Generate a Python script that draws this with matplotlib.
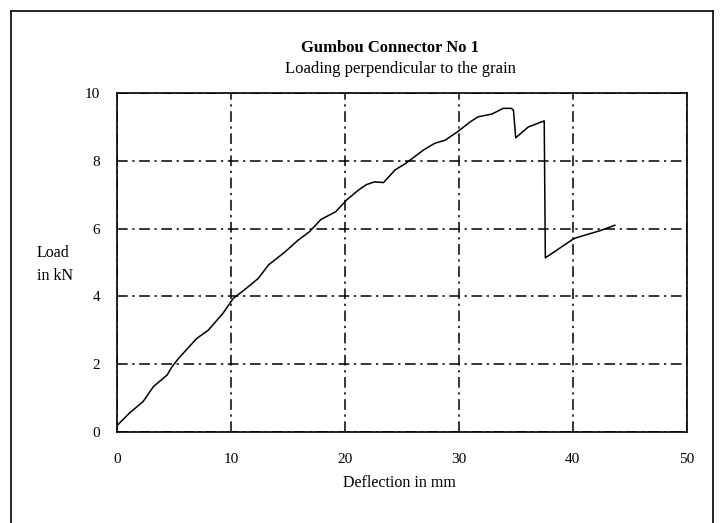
"""Gumbou connector No 1 — load vs deflection, loading perpendicular to the grain."""
import matplotlib
matplotlib.use("Agg")
import matplotlib.pyplot as plt
from matplotlib.lines import Line2D

# deflection (mm) and load (kN)
DEFLECTION = [0.0, 1.1, 2.3, 3.2, 4.4, 4.8, 5.4, 7.0, 8.0, 9.3, 10.2, 11.2,
              12.4, 13.3, 14.7, 15.9, 16.9, 17.9, 19.2, 20.2, 21.2, 21.9,
              22.6, 23.4, 24.4, 25.4, 26.9, 27.9, 28.8, 29.9, 31.0, 31.7,
              32.9, 33.9, 34.6, 34.8, 35.0, 36.1, 37.5, 37.6, 38.4, 39.9,
              40.2, 42.4, 43.7]
LOAD = [0.19, 0.56, 0.90, 1.34, 1.68, 1.91, 2.17, 2.76, 3.00, 3.50, 3.94, 4.20,
        4.53, 4.93, 5.30, 5.66, 5.91, 6.27, 6.50, 6.86, 7.14, 7.30,
        7.38, 7.36, 7.73, 7.94, 8.32, 8.52, 8.61, 8.86, 9.15, 9.30,
        9.38, 9.55, 9.55, 9.50, 8.68, 9.00, 9.18, 5.14, 5.32, 5.66,
        5.72, 5.94, 6.10]
X_TICKS = [0, 10, 20, 30, 40, 50]
Y_TICKS = [0, 2, 4, 6, 8, 10]

plt.rcParams["font.family"] = ["Liberation Serif", "DejaVu Serif"]

fig = plt.figure(figsize=(7.22, 5.23), dpi=100)
ax = fig.add_axes([0.162, 0.174, 0.789, 0.648])

ax.plot(DEFLECTION, LOAD, color="black", linewidth=1.1)

ax.set_xlim(0, 50)
ax.set_ylim(0, 10)
ax.set_xticks(X_TICKS, [str(t) for t in X_TICKS])
ax.set_yticks(Y_TICKS, [str(t) for t in Y_TICKS])
ax.tick_params(axis="both", length=0, labelsize=11)
ax.tick_params(axis="x", pad=15)
ax.tick_params(axis="y", pad=12)
ax.grid(True, color="black", linewidth=1.1, linestyle=(0, (7, 3, 1.5, 3)))
for sp in ax.spines.values():
    sp.set_linewidth(1.2)

fig.text(0.540, 0.908, "Gumbou Connector No 1", ha="center", va="center",
         fontsize=12, fontweight="bold")
fig.text(0.555, 0.868, "Loading perpendicular to the grain", ha="center",
         va="center", fontsize=12)
fig.text(0.553, 0.077, "Deflection in mm", ha="center", va="center",
         fontsize=11.5)
fig.text(0.051, 0.495, "Load\nin kN", ha="left", va="center", fontsize=11.5,
         linespacing=1.6)

# outer frame of the scanned figure (bottom edge is cut off)
for xs, ys in (([0.015, 0.015], [0.0, 0.979]),
               ([0.015, 0.987], [0.979, 0.979]),
               ([0.987, 0.987], [0.979, 0.0])):
    fig.add_artist(Line2D(xs, ys, color="black", linewidth=1.2,
                          transform=fig.transFigure))

fig.savefig("out.png", dpi=100)
